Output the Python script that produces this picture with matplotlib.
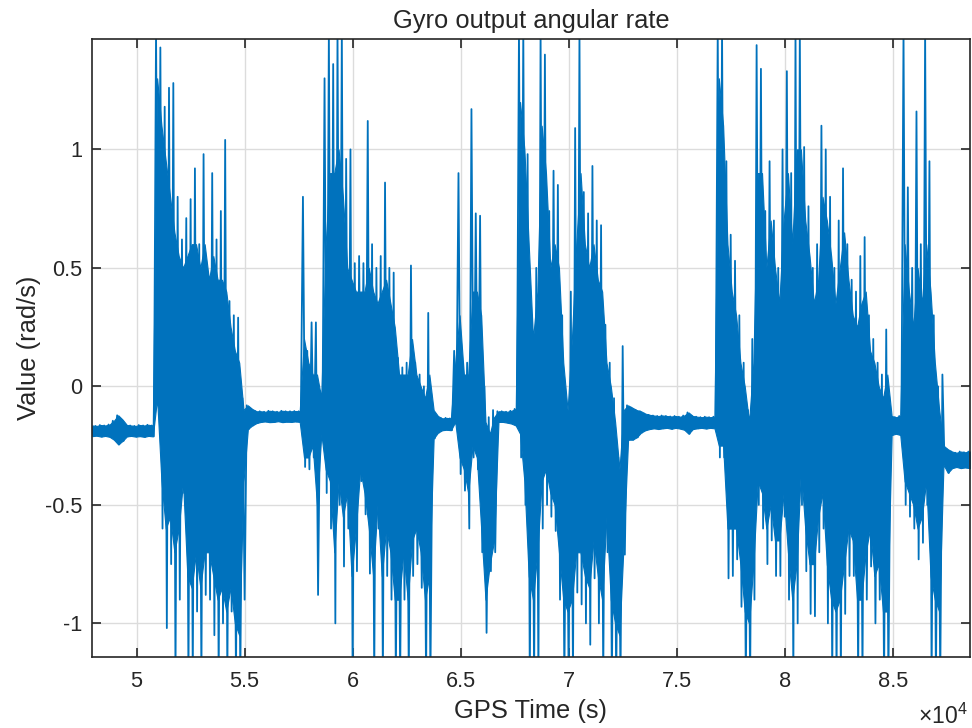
import numpy as np
import matplotlib
matplotlib.use("Agg")
import matplotlib.pyplot as plt

# gyro samples, read off the picture as a hi/lo pair every 200 s
# (the line goes hi at t, lo at t+100, so it gives the dense zigzag look)
t_start = 47900
dt = 200

upper = [
    # quiet start ~ -0.19
    -0.165, -0.167, -0.163, -0.165, -0.161, -0.145, -0.122, -0.140, -0.163, -0.165,
    -0.167, -0.163, -0.165, -0.162, -0.165,
    # burst 1 (5.08 - 5.5)
    1.50, 1.43, 1.18, 1.26, 1.28, 0.80, 0.62, 0.71, 0.79, 0.92,
    0.60, 0.98, 0.48, 0.90, 0.62, 0.74, 1.04, 0.36, 0.30, 0.29, -0.05,
    # quiet ~ -0.13
    -0.080, -0.095, -0.105, -0.105, -0.107, -0.103, -0.105, -0.107, -0.103, -0.105,
    -0.105, -0.104, -0.105,
    # burst 2 (5.76 - 6.36)
    0.80, 0.15, 0.27, 0.27, -0.02, 1.30, 1.50, 1.36, 1.50, 1.50,
    0.96, 1.00, 0.52, 0.55, 0.52, 1.12, 0.60, 0.50, 0.55, 0.86,
    0.50, 0.48, 0.12, 0.08, 0.10, 0.51, 0.10, 0.05, 0.00, 0.31,
    # quiet ~ -0.16
    -0.100, -0.125, -0.135, -0.133, -0.135,
    # burst 3 (6.46 - 7.26)
    0.15, 0.90, 0.10, 0.10, 1.17, 0.73, 0.72, 0.00, -0.13, -0.10,
    -0.105, -0.105, -0.107, -0.103, -0.095,
    1.50, 1.50, 0.98, 0.30, 0.50, 1.50, 1.40, 0.74, 0.91, 0.85,
    0.30, -0.10, 0.40, 1.09, 1.50, 0.82, 0.73, 0.93, 0.70, 0.68,
    0.26, 0.10, -0.05, -0.30, 0.17,
    # quiet ~ -0.15
    -0.080, -0.090, -0.100, -0.105, -0.115, -0.120, -0.123, -0.125, -0.123, -0.125,
    -0.127, -0.125, -0.128, -0.123, -0.110, -0.125, -0.128, -0.130, -0.128, -0.130,
    -0.128,
    # burst 4 (7.68 - 8.47)
    1.50, 1.50, 0.95, 0.64, 0.53, 0.30, 0.10, -0.10, 0.20, 1.44,
    1.34, 0.74, 0.95, 0.70, 0.50, 1.00, 1.33, 0.90, 1.50, 1.50,
    1.01, 0.76, 0.50, 0.60, 1.10, 1.00, 0.80, 0.50, 0.70, 0.92,
    0.60, 0.45, 0.40, 0.55, 0.63, 0.30, 0.20, 0.10, 0.05, 0.24,
    # short quiet
    -0.125, -0.130, -0.125,
    # burst 5 (8.55 - 8.73)
    1.50, 0.84, 0.50, 1.16, 0.60, 1.50, 0.95, 0.30, 0.00, 0.05,
    # quiet end ~ -0.31
    -0.265, -0.275, -0.280, -0.275, -0.278, -0.275, -0.277,
]

lower = [
    -0.210, -0.208, -0.212, -0.209, -0.213, -0.225, -0.245, -0.230, -0.211, -0.209,
    -0.212, -0.210, -0.213, -0.209, -0.211,
    -0.05, -0.60, -1.02, -0.75, -1.25, -0.90, -0.45, -1.25, -1.25, -0.95,
    -1.25, -0.88, -0.90, -1.05, -1.25, -1.00, -1.25, -0.95, -1.25, -1.25, -0.90,
    -0.180, -0.165, -0.155, -0.150, -0.148, -0.151, -0.150, -0.147, -0.151, -0.149,
    -0.150, -0.148, -0.150,
    -0.34, -0.35, -0.30, -0.88, -0.22, -0.45, -0.60, -1.00, -0.50, -0.76,
    -0.60, -1.25, -0.78, -0.40, -0.54, -0.79, -1.25, -0.60, -1.25, -0.80,
    -0.90, -1.25, -1.25, -0.90, -1.25, -0.80, -0.75, -0.85, -1.25, -1.25,
    -0.220, -0.195, -0.185, -0.183, -0.185,
    -0.15, -0.37, -0.44, -0.60, -0.30, -0.35, -0.70, -1.04, -0.78, -0.70,
    -0.150, -0.150, -0.153, -0.157, -0.165,
    -0.30, -0.50, -1.25, -1.25, -1.25, -0.60, -0.50, -0.55, -0.61, -0.90,
    -1.25, -1.25, -1.25, -0.87, -0.92, -1.00, -1.09, -0.81, -1.00, -1.25,
    -0.70, -1.25, -1.25, -1.25, -0.71,
    -0.225, -0.225, -0.215, -0.195, -0.185, -0.180, -0.177, -0.180, -0.177, -0.175,
    -0.179, -0.175, -0.178, -0.183, -0.200, -0.180, -0.177, -0.175, -0.178, -0.175,
    -0.177,
    -0.30, -0.30, -0.81, -0.80, -0.73, -0.93, -1.25, -1.25, -0.90, -0.50,
    -0.60, -0.75, -0.65, -0.80, -0.80, -0.55, -0.90, -1.25, -1.00, -0.50,
    -0.78, -0.96, -0.97, -0.70, -0.60, -1.00, -1.25, -1.25, -1.25, -0.96,
    -0.80, -0.80, -1.25, -1.25, -0.90, -0.76, -1.00, -0.90, -1.25, -1.25,
    -0.205, -0.200, -0.205,
    -0.50, -0.55, -0.60, -0.73, -0.66, -0.50, -1.25, -1.25, -1.25, -0.33,
    -0.365, -0.345, -0.340, -0.345, -0.342, -0.345, -0.343,
]

# the solid blue "core" inside each burst (where the trace is too dense to
# see gaps), same 200 s samples; nan = quiet part, there the hi/lo band is used
nan = np.nan
core_hi = (
    [nan] * 15
    + [1.30, 1.10, 0.95, 0.80, 0.65, 0.55, 0.50, 0.55, 0.60, 0.60,
       0.50, 0.60, 0.45, 0.55, 0.45, 0.45, 0.40, 0.25, 0.15, 0.10, -0.10]
    + [nan] * 13
    + [0.20, 0.10, 0.05, 0.05, -0.05, 0.60, 0.90, 0.90, 1.00, 0.80,
       0.50, 0.45, 0.40, 0.40, 0.40, 0.50, 0.40, 0.35, 0.40, 0.45,
       0.35, 0.25, 0.05, 0.05, 0.05, 0.20, 0.05, 0.00, -0.05, 0.05]
    + [nan] * 5
    + [0.10, 0.30, 0.05, 0.05, 0.40, 0.40, 0.30, -0.15, -0.20, -0.13]
    + [nan] * 5
    + [1.20, 1.00, 0.60, 0.20, 0.40, 1.10, 0.90, 0.50, 0.60, 0.50,
       0.10, -0.10, 0.20, 0.60, 0.90, 0.60, 0.50, 0.60, 0.45, 0.40,
       0.10, 0.00, -0.15, -0.35, -0.10]
    + [nan] * 21
    + [1.30, 1.10, 0.60, 0.40, 0.30, 0.10, 0.00, -0.15, 0.10, 0.90,
       0.90, 0.50, 0.70, 0.50, 0.35, 0.70, 0.90, 0.60, 1.00, 1.00,
       0.70, 0.55, 0.35, 0.45, 0.80, 0.70, 0.55, 0.35, 0.50, 0.65,
       0.45, 0.30, 0.25, 0.35, 0.40, 0.15, 0.10, 0.00, -0.05, 0.05]
    + [nan] * 3
    + [0.60, 0.40, 0.25, 0.50, 0.35, 0.60, 0.40, 0.10, -0.10, -0.25]
    + [nan] * 7
)
core_lo = (
    [nan] * 15
    + [-0.05, -0.40, -0.60, -0.55, -0.70, -0.60, -0.40, -0.80, -0.85, -0.70,
       -0.85, -0.70, -0.70, -0.80, -0.90, -0.85, -0.95, -0.85, -1.00, -1.05, -0.40]
    + [nan] * 13
    + [-0.30, -0.30, -0.25, -0.50, -0.20, -0.35, -0.40, -0.70, -0.40, -0.55,
       -0.45, -0.80, -0.60, -0.35, -0.45, -0.60, -0.80, -0.50, -0.80, -0.60,
       -0.70, -0.90, -0.90, -0.70, -0.90, -0.65, -0.60, -0.70, -0.90, -0.80]
    + [nan] * 5
    + [-0.15, -0.30, -0.35, -0.45, -0.25, -0.30, -0.60, -0.90, -0.75, -0.65]
    + [nan] * 5
    + [-0.20, -0.40, -0.80, -0.90, -0.70, -0.40, -0.35, -0.45, -0.50, -0.70,
       -0.90, -0.95, -0.90, -0.70, -0.70, -0.80, -0.85, -0.65, -0.80, -0.90,
       -0.55, -0.90, -1.00, -1.05, -0.65]
    + [nan] * 21
    + [-0.25, -0.25, -0.60, -0.60, -0.60, -0.75, -0.95, -1.00, -0.75, -0.40,
       -0.45, -0.60, -0.50, -0.65, -0.65, -0.45, -0.70, -0.90, -0.75, -0.35,
       -0.60, -0.75, -0.75, -0.55, -0.45, -0.75, -0.90, -0.95, -0.90, -0.75,
       -0.60, -0.65, -0.90, -0.90, -0.70, -0.60, -0.80, -0.75, -0.95, -0.95]
    + [nan] * 3
    + [-0.40, -0.45, -0.50, -0.60, -0.55, -0.40, -0.80, -0.90, -0.95, -0.33]
    + [nan] * 7
)

xtick_vals = [50000, 55000, 60000, 65000, 70000, 75000, 80000, 85000]
xtick_labels = ['5', '5.5', '6', '6.5', '7', '7.5', '8', '8.5']
ytick_vals = [-1, -0.5, 0, 0.5, 1]
ytick_labels = ['-1', '-0.5', '0', '0.5', '1']

# build the zigzag line
t = t_start + dt * np.arange(len(upper))
x = np.column_stack([t, t + dt / 2]).ravel()
y = np.column_stack([upper, lower]).ravel()

# quiet parts: solid band between hi and lo
c_hi = np.where(np.isnan(core_hi), upper, core_hi)
c_lo = np.where(np.isnan(core_lo), lower, core_lo)

plt.rcParams['font.family'] = ['Liberation Sans', 'DejaVu Sans']
plt.rcParams['mathtext.fontset'] = 'custom'
plt.rcParams['mathtext.rm'] = 'Liberation Sans'

fig = plt.figure(figsize=(9.72, 7.28), dpi=100)
ax = fig.add_axes([0.0943, 0.0975, 0.9037, 0.849])

blue = '#0072BD'
ax.fill_between(t + dt / 4, c_lo, c_hi, color=blue, linewidth=0.8, edgecolor=blue)
ax.plot(x, y, color=blue, linewidth=1.3)

ax.set_xlim(47920, 88580)
ax.set_ylim(-1.142, 1.466)
ax.set_xticks(xtick_vals)
ax.set_xticklabels(xtick_labels)
ax.set_yticks(ytick_vals)
ax.set_yticklabels(ytick_labels)

# matlab look: box, inward ticks, light grid
ax.grid(True, color='#dcdcdc', linewidth=1.0)
ax.set_axisbelow(True)
for s in ax.spines.values():
    s.set_linewidth(1.2)
    s.set_color('#262626')
ax.tick_params(direction='in', top=True, right=True, length=6.5, width=1.2,
               color='#262626', labelsize=15.7, labelcolor='#262626')
ax.tick_params(axis='x', pad=10)
ax.tick_params(axis='y', pad=7)

ax.set_title('Gyro output angular rate', fontsize=18.4, color='#262626', pad=7.7)
ax.set_xlabel('GPS Time (s)', fontsize=18.4, color='#262626', labelpad=5)
ax.set_ylabel('Value (rad/s)', fontsize=18.4, color='#262626', labelpad=2.5)

fig.text(968 / 972, 1 - 724 / 728, r'$\times\mathregular{10^{4}}$', ha='right',
         va='baseline', fontsize=16.5, color='#262626')

fig.savefig('out.png', dpi=100)
